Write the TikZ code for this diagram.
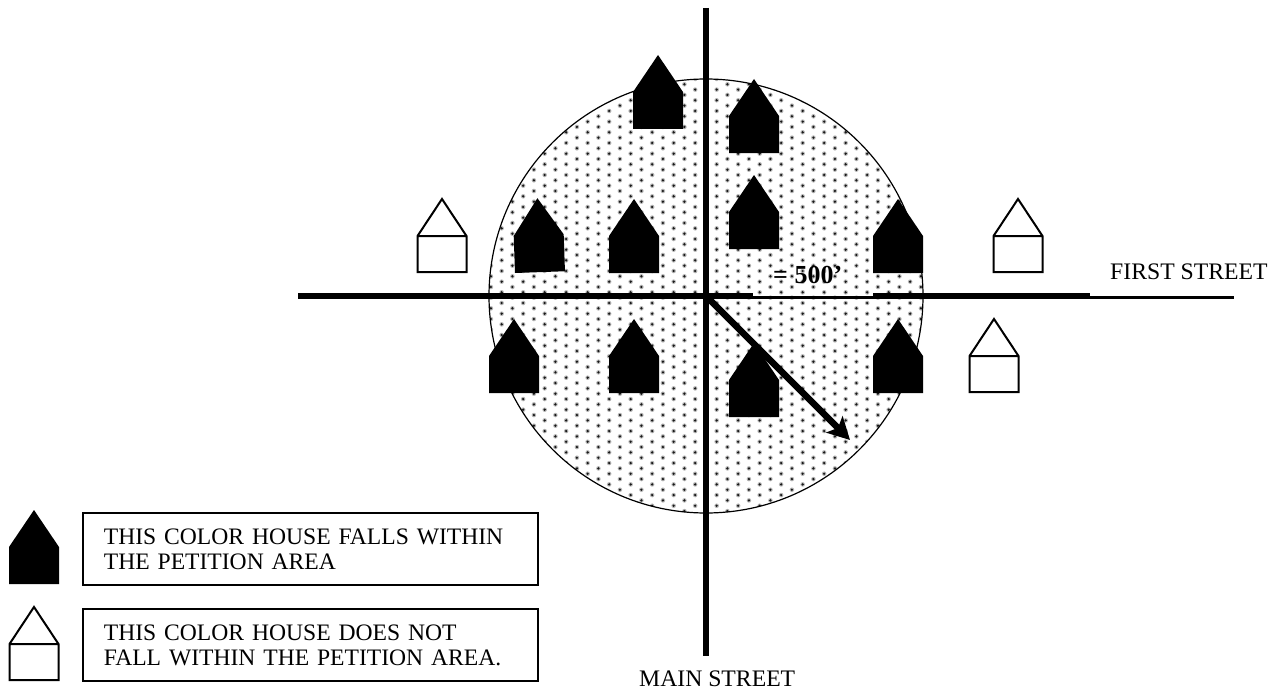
\documentclass[tikz,border=0pt]{standalone}
\usepackage{fontspec}
\setmainfont{Liberation Serif}
\usetikzlibrary{arrows.meta,positioning}

\begin{document}
\begin{tikzpicture}[x=1pt,y=-1pt,
		pics/blackhouse/.style={code={\fill (0,0) -- (0,-37) -- (25,-74) -- (50,-37) -- (50,0) -- cycle;}},
		pics/whitehouse/.style={code={\draw[line width=2pt,fill=white] (0,0) -- (0,-36) -- (24.5,-73) -- (49,-36) -- (49,0) -- cycle (0,-36) -- (49,-36);}}]
		\tikzstyle{thick road}=[line width=6pt]
		\tikzstyle{thin road}=[line width=3.3pt]
		\tikzstyle{legend}=[draw,line width=1.8pt,minimum width=455pt,minimum height=72pt,inner sep=0pt,inner xsep=21pt,text width=413pt,align=left,font=\fontsize{23.6}{25}\selectfont]
		\tikzstyle{street}=[inner sep=0pt,font=\fontsize{23.7}{25}\selectfont]
		
		\useasboundingbox (0,0) rectangle (1274,690);
		
		\coordinate (crossing) at (706,296);
		\coordinate (main_n)   at (706,8);
		\coordinate (main_s)   at (706,656);
		\coordinate (first_w)  at (298,296.3);
		\coordinate (first_a)  at (753,296.3);
		\coordinate (first_b)  at (873,296.3);
		\coordinate (first_c)  at (1090,296.3);
		\coordinate (first_a2) at (753,297.7);
		\coordinate (first_b2) at (873,297.7);
		\coordinate (first_c2) at (1090,297.7);
		\coordinate (first_e)  at (1234,297.7);
		\coordinate (radius)   at (850,440);
		
		% dotted petition area
		\begin{scope}
		\clip (crossing) circle (217pt);
		\foreach \i in {-2,...,40}
		\foreach \j in {-17,...,27}{
		\fill[black!28] ({501.67+10.75*\i},{239+10.67*\j+2.665*(1-cos(180*\i))}) circle (2.3pt);
		\fill[black!90] ({501.67+10.75*\i},{239+10.67*\j+2.665*(1-cos(180*\i))}) circle (1.3pt);
		}
		\end{scope}
		\node[draw,circle,line width=1.2pt,minimum size=434pt,inner sep=0pt] (area) at (crossing) {};
		
		\foreach \x/\y [count=\n] in {633/129,729/153,729/249,609/273,873/273,489/393,609/393,729/417,873/393,9/584}
		\pic (h_\n) at (\x,\y) {blackhouse};
		\pic[rotate=2] (h_tilted) at (515,273) {blackhouse};
		\foreach \x/\y [count=\n] in {417.5/272,993.5/272,969.5/392,9.5/680}
		\pic (w_\n) at (\x,\y) {whitehouse};
		
		\draw[thick road] (main_n) -- (main_s);
		\draw[thick road] (first_w) -- (first_a);
		\draw[thin road]  (first_a2) -- (first_b2);
		\draw[thick road] (first_b) -- (first_c);
		\draw[thin road]  (first_c2) -- (first_e);
		\draw[line width=6.5pt,-{Stealth[length=22pt,width=23pt,inset=5pt]}] (crossing) -- (radius);
		
		\node[anchor=base west,inner sep=0pt,font=\fontsize{26}{25}\selectfont\bfseries] (dist) at (773,283) {= 500’};
		\node[street,anchor=base west] (first) at (1110,279) {FIRST STREET};
		\node[street,anchor=base west] (main)  at (639,686)  {MAIN STREET};
		
		\node[legend,anchor=north west] (key_in)  at (82,512) {THIS COLOR HOUSE FALLS WITHIN\\THE PETITION AREA};
		\node[legend,anchor=north west] (key_out) at (82,608) {THIS COLOR HOUSE DOES NOT\\FALL WITHIN THE PETITION AREA.};
		
\end{tikzpicture}
\end{document}
